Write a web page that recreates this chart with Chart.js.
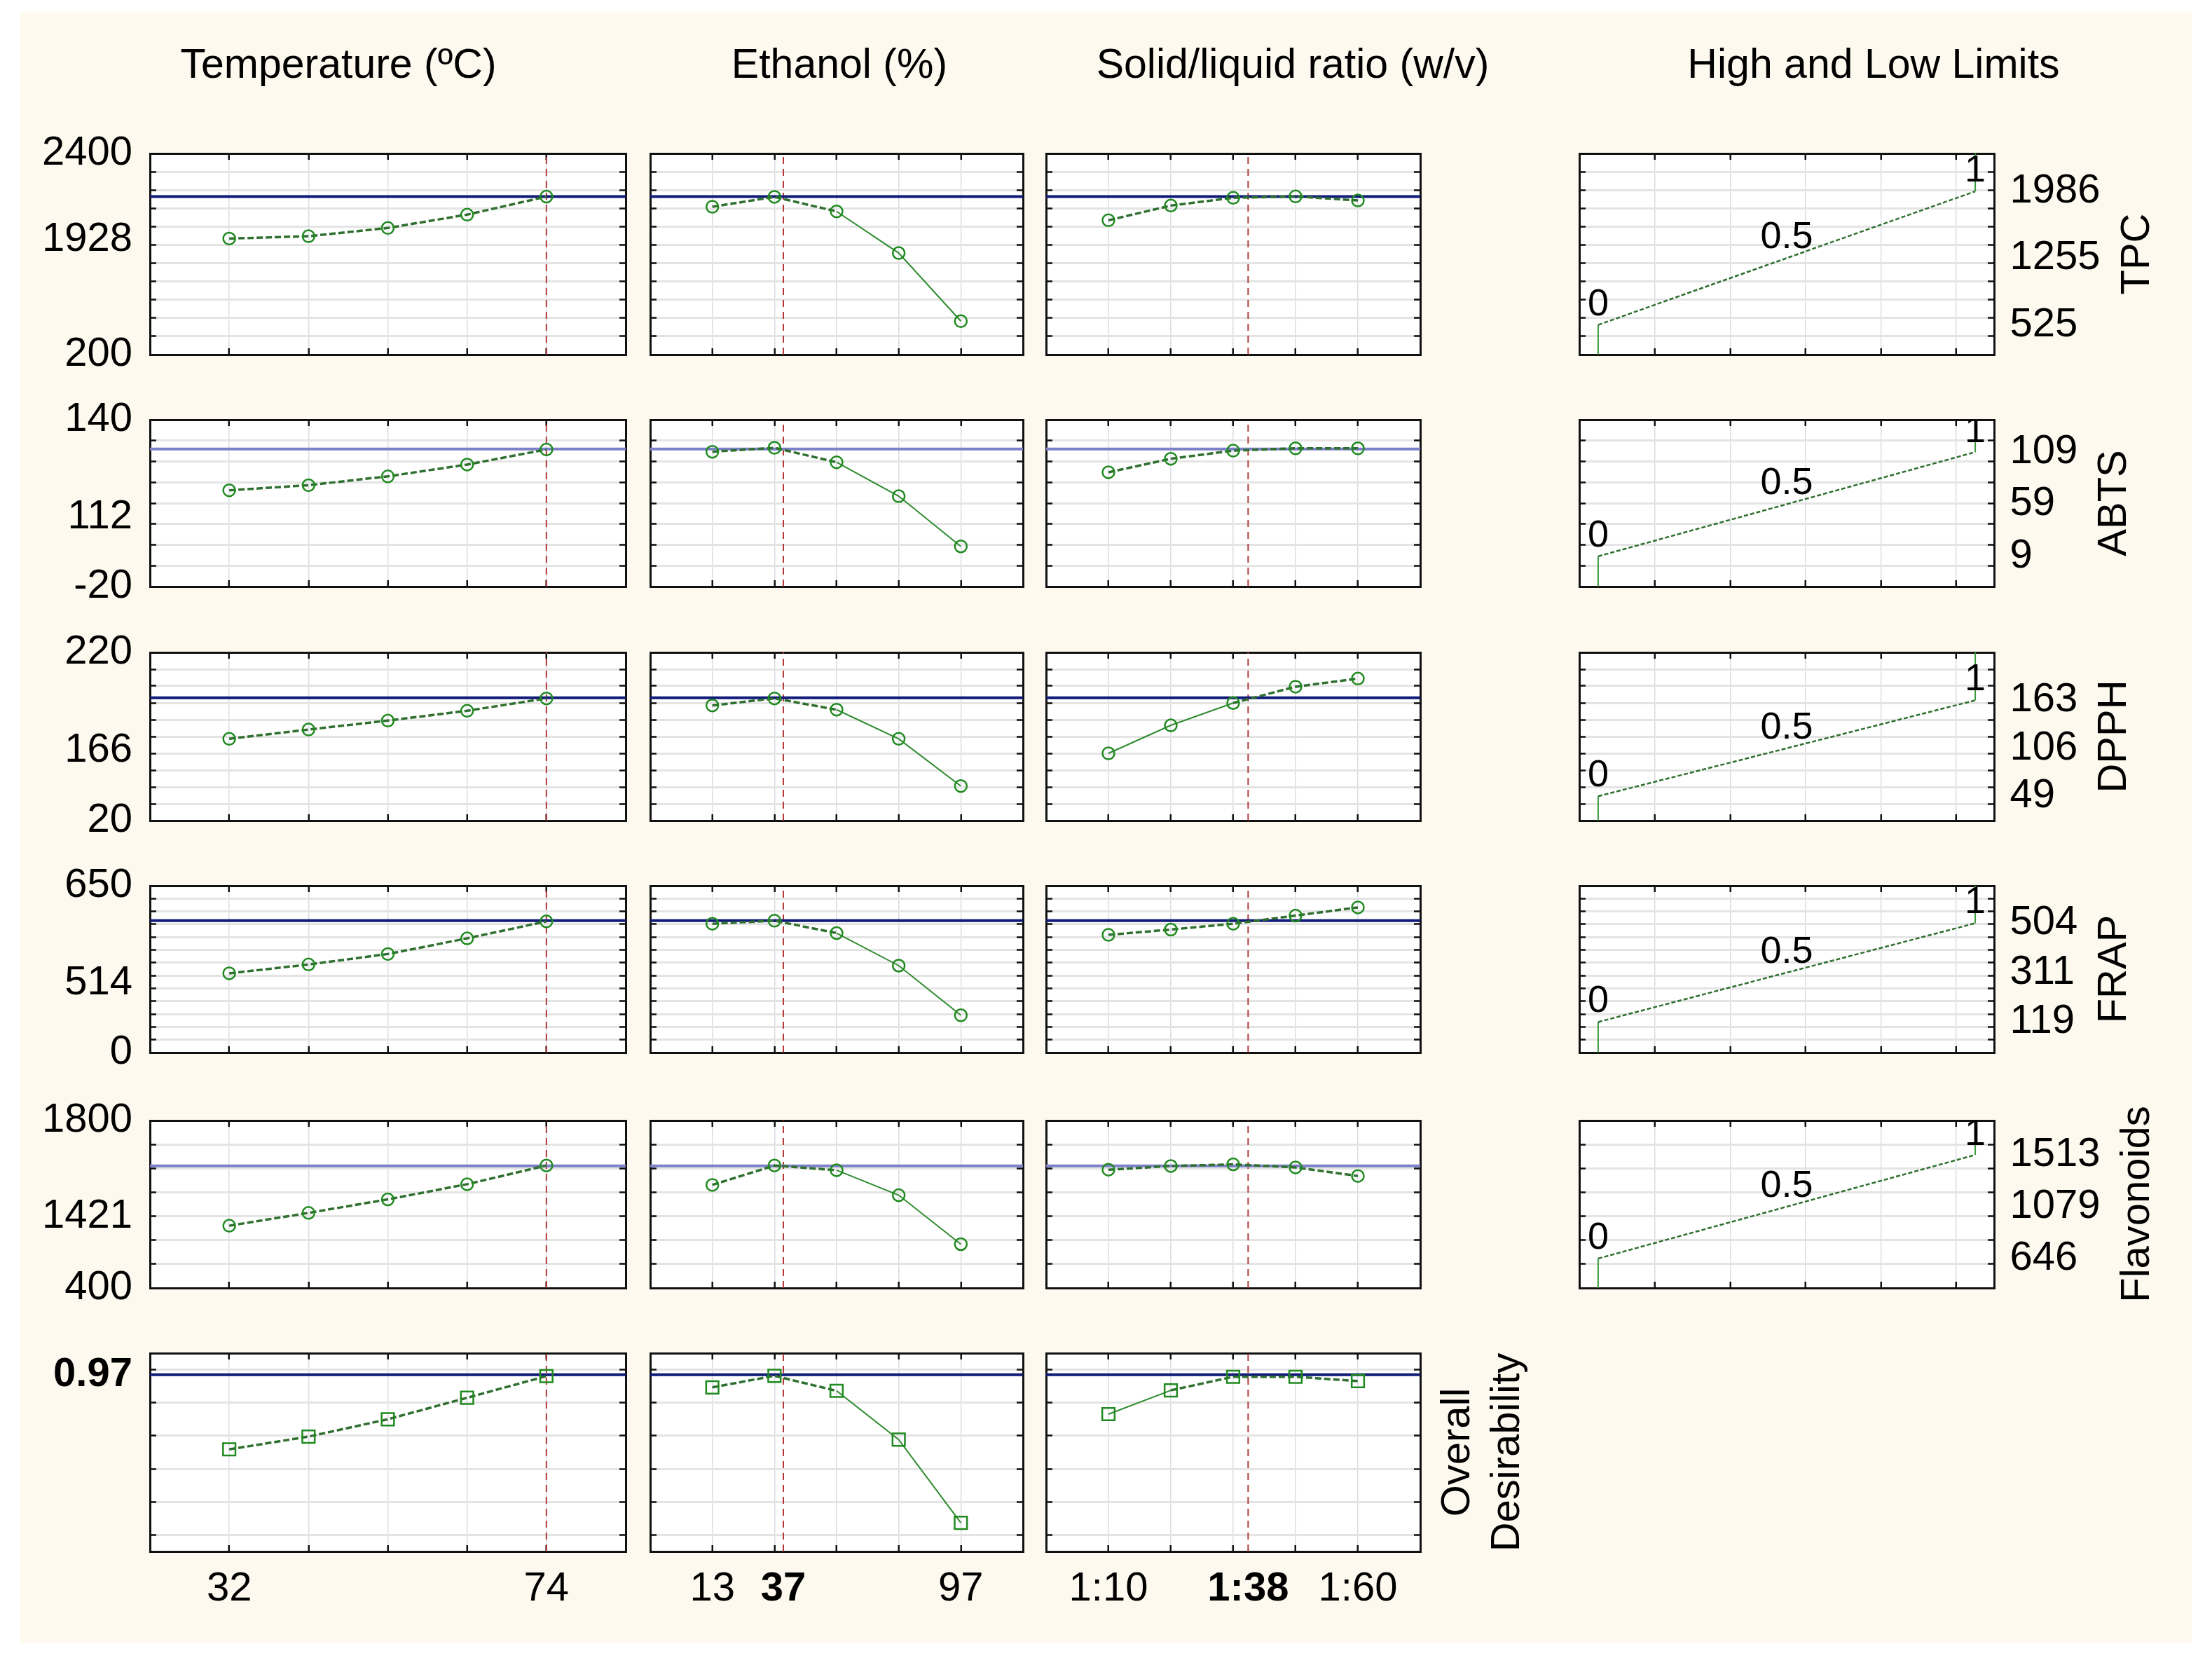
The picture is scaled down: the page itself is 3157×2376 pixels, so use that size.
<!DOCTYPE html>
<html><head><meta charset="utf-8">
<script src="https://cdn.jsdelivr.net/npm/chart.js@4.4.1/dist/chart.umd.min.js"></script>
<style>
html,body{margin:0;padding:0;background:#fff;}
#page{position:relative;width:3157px;height:2376px;overflow:hidden;background:#fff;}
#cream{position:absolute;left:29px;top:18px;width:3099px;height:2327px;background:#fdf9ee;}
.title{position:absolute;top:62px;width:900px;text-align:center;font:59px/59px 'Liberation Sans',Arial,sans-serif;color:#000;white-space:nowrap;}
canvas{position:absolute;}
</style></head><body><div id="page"><div id="cream"></div></div>
<script>
// ---------------- DATA ----------------
const factorTitles = ['Temperature (ºC)', 'Ethanol (%)', 'Solid/liquid ratio (w/v)', 'High and Low Limits'];
const tempLevels = [32, 42.5, 53, 63.5, 74];
const ethanolLevels = [13, 34, 55, 76, 97];
const ratioLevels = [10, 22.5, 35, 47.5, 60];
const optimumSettings = [74, 37, 38];
const xLabelValues = [[32, 74], [13, 37, 97], [10, 38, 60]];
const xLabelTexts = [['32', '74'], ['13', '37', '97'], ['1:10', '1:38', '1:60']];

const responseNames = ['TPC', 'ABTS', 'DPPH', 'FRAP', 'Flavonoids'];
const axisMin = [200, -20, 20, 0, 400, -0.1];
const axisMax = [2400, 140, 220, 650, 1800, 1.1];
const gridStart = [200, -20, 20, 0, 400, 0];
const gridEnd = [2400, 140, 220, 650, 1800, 1];
const gridStep = [200, 20, 20, 50, 200, 0.2];
const predictedAtOptimum = [1928, 112, 166, 514, 1421, 0.97];
const lowLimits = [525, 9, 49, 119, 646];
const midLimits = [1255, 59, 106, 311, 1079];
const highLimits = [1986, 109, 163, 504, 1513];
const desirabilityLabels = ['0', '0.5', '1'];

const tpcByTemp = [1469, 1495, 1585, 1731, 1928];
const tpcByEthanol = [1817, 1925, 1766, 1311, 566];
const tpcByRatio = [1669, 1830, 1915, 1930, 1886];
const abtsByTemp = [72.3, 77.2, 85.7, 97, 111.5];
const abtsByEthanol = [109.3, 113.1, 99.2, 66.7, 18.5];
const abtsByRatio = [89.6, 102.6, 110.4, 112.6, 112.6];
const dpphByTemp = [117.2, 128.3, 138.9, 150.6, 165.3];
const dpphByEthanol = [156.9, 165.3, 151.9, 117.2, 61.1];
const dpphByRatio = [100, 133.3, 159.8, 179.2, 188.9];
const frapByTemp = [308.8, 343.1, 384, 445, 511.1];
const frapByEthanol = [502.1, 513.8, 465.6, 338.7, 145.4];
const frapByRatio = [458.6, 479.3, 502.1, 533.7, 565.6];
const flavByTemp = [920.7, 1027.7, 1140.7, 1267.6, 1423.8];
const flavByEthanol = [1261.8, 1423.8, 1384.6, 1175.8, 766.2];
const flavByRatio = [1388.7, 1419.7, 1433.2, 1408, 1336];
const desByTemp = [0.518, 0.595, 0.70, 0.83, 0.961];
const desByEthanol = [0.893, 0.963, 0.872, 0.577, 0.073];
const desByRatio = [0.731, 0.875, 0.957, 0.957, 0.931];

// ---------------- LAYOUT / STYLE ----------------
const FONT_FAMILY = "'Liberation Sans', Arial, sans-serif";
const COLS = [[214, 893], [928, 1460], [1493, 2027], [2254, 2846]];
const ROWS = [[219, 506], [599, 837], [931, 1171], [1264, 1502], [1599, 1838], [1931, 2214]];
const TITLE_CENTERS = [483, 1198, 1845, 2674];
const MID_LABEL_FRAC = [0.57, 0.415, 0.415, 0.415, 0.425];
const BLUE = ['#101a78', '#7d82c8', '#101a78', '#101a78', '#7d82c8', '#101a78'];
const H_GRID = '#e4e4e4', V_GRID = '#dcdce6';

const levelsByCol = [tempLevels, ethanolLevels, ratioLevels];
const valuesGrid = [
  [tpcByTemp, tpcByEthanol, tpcByRatio],
  [abtsByTemp, abtsByEthanol, abtsByRatio],
  [dpphByTemp, dpphByEthanol, dpphByRatio],
  [frapByTemp, frapByEthanol, frapByRatio],
  [flavByTemp, flavByEthanol, flavByRatio],
  [desByTemp, desByEthanol, desByRatio]
];

const page = document.getElementById('page');
factorTitles.forEach((t, i) => {
  const d = document.createElement('div');
  d.className = 'title'; d.textContent = t;
  d.style.left = (TITLE_CENTERS[i] - 450) + 'px';
  page.appendChild(d);
});

// ---------------- PLUGINS ----------------
const areaBg = {
  id: 'areaBg',
  beforeDraw(chart) {
    const { ctx, chartArea: a } = chart;
    ctx.save(); ctx.fillStyle = '#fff';
    ctx.fillRect(a.left, a.top, a.right - a.left, a.bottom - a.top);
    ctx.restore();
  }
};
const descLabels = {
  id: 'descLabels',
  afterDatasetsDraw(chart, args, opts) {
    if (!opts || !opts.points) return;
    const { ctx, chartArea: a, scales } = chart;
    ctx.save();
    ctx.beginPath(); ctx.rect(a.left, a.top, a.right - a.left, a.bottom - a.top); ctx.clip();
    ctx.font = '54px ' + FONT_FAMILY; ctx.fillStyle = '#000';
    ctx.textAlign = 'center'; ctx.textBaseline = 'alphabetic';
    opts.points.forEach(p => ctx.fillText(p.text, scales.x.getPixelForValue(p.x), scales.y.getPixelForValue(p.y) - 14));
    ctx.restore();
  }
};
const sideTitle = {
  id: 'sideTitle',
  afterDraw(chart, args, opts) {
    if (!opts || !opts.lines) return;
    const { ctx, chartArea: a } = chart;
    ctx.save();
    ctx.font = '58px ' + FONT_FAMILY;
    let x0 = a.right + opts.gap;
    if (opts.afterLabels) {
      const s = chart.scales.y2;
      let w = 0;
      s.ticks.forEach(t => { if (t.lab) w = Math.max(w, ctx.measureText(t.lab).width); });
      x0 = a.right - 9 + s.options.ticks.padding + w + opts.gap;
    }
    ctx.fillStyle = '#000'; ctx.textAlign = 'center'; ctx.textBaseline = 'top';
    const cy = (a.top + a.bottom) / 2;
    opts.lines.forEach((line, i) => {
      ctx.save(); ctx.translate(x0 + i * 71, cy); ctx.rotate(-Math.PI / 2);
      ctx.fillText(line, 0, 0); ctx.restore();
    });
    ctx.restore();
  }
};

// ---------------- HELPERS ----------------
function range(start, end, step) {
  const t = []; const n = Math.round((end - start) / step);
  for (let i = 0; i <= n; i++) t.push(+(start + i * step).toFixed(6));
  return t;
}
function makeAxis(o) {
  return {
    type: 'linear', axis: o.axis, position: o.position, min: o.min, max: o.max,
    afterBuildTicks: s => {
      const t = o.ticks.map(v => ({ value: v }));
      (o.extra || []).forEach(e => t.push({ value: e.value, lab: e.text, bold: !!e.bold, extra: true }));
      t.sort((p, q) => p.value - q.value);
      s.ticks = t;
    },
    afterFit: s => {
      if (o.axis === 'x') s.height = o.size; else s.width = o.size;
      s.paddingTop = 0; s.paddingBottom = 0; s.paddingLeft = 0; s.paddingRight = 0;
    },
    grid: {
      display: true, drawOnChartArea: !!o.onArea,
      color: c => (c.tick && c.tick.extra) ? 'rgba(0,0,0,0)' : o.gridColor,
      lineWidth: o.gridWidth, drawTicks: true, tickLength: -9, tickWidth: 2.5,
      tickColor: c => (c.tick && c.tick.extra) ? 'rgba(0,0,0,0)' : '#111'
    },
    border: { display: true, color: '#111', width: 3 },
    ticks: {
      display: !!o.showLabels, autoSkip: false, maxRotation: 0, minRotation: 0,
      padding: o.padding || 0, color: '#000',
      font: c => ({ family: FONT_FAMILY, size: 58, weight: (c.tick && c.tick.bold) ? 'bold' : 'normal' }),
      callback: (v, i, t) => (t[i] && t[i].lab) ? t[i].lab : ''
    }
  };
}
function shallow(c) { return Math.abs(c.p1.y - c.p0.y) < 0.35 * Math.abs(c.p1.x - c.p0.x); }

function addChart(col, row, M, datasets, scales, plugins) {
  const [x0, x1] = COLS[col], [y0, y1] = ROWS[row];
  const W = (x1 - x0) + M.l + M.r, H = (y1 - y0) + M.t + M.b;
  const c = document.createElement('canvas');
  c.width = W; c.height = H;
  c.style.left = (x0 - M.l) + 'px'; c.style.top = (y0 - M.t) + 'px';
  c.style.width = W + 'px'; c.style.height = H + 'px';
  page.appendChild(c);
  return new Chart(c.getContext('2d'), {
    type: 'line',
    data: { datasets },
    options: {
      responsive: false, devicePixelRatio: 1, animation: false, events: [],
      layout: { padding: 0, autoPadding: false },
      plugins: Object.assign({ legend: { display: false }, tooltip: { enabled: false } }, plugins || {}),
      scales
    },
    plugins: [areaBg, descLabels, sideTitle]
  });
}

// ---------------- PROFILE PANELS ----------------
for (let row = 0; row < 6; row++) {
  for (let col = 0; col < 3; col++) {
    const levels = levelsByCol[col];
    const step = levels[1] - levels[0];
    const xmin = levels[0] - step, xmax = levels[levels.length - 1] + step;
    const ymin = axisMin[row], ymax = axisMax[row];
    const values = valuesGrid[row][col];
    const M = { l: col === 0 ? 200 : 20, r: (col === 2 && row === 5) ? 190 : 20, t: 45, b: row === 5 ? 120 : 45 };
    const yTicks = range(gridStart[row], gridEnd[row], gridStep[row]);
    const xTicks = levels.slice();

    let yExtra = [];
    if (col === 0) {
      if (row < 5) {
        yExtra = [
          { value: ymax, text: String(ymax) },
          { value: ymin + MID_LABEL_FRAC[row] * (ymax - ymin), text: String(predictedAtOptimum[row]) },
          { value: ymin, text: String(ymin) }
        ];
      } else {
        yExtra = [{ value: predictedAtOptimum[row], text: String(predictedAtOptimum[row]), bold: true }];
      }
    }
    let xExtra = [];
    if (row === 5) {
      xExtra = xLabelValues[col].map((v, i) => ({ value: v, text: xLabelTexts[col][i], bold: v === optimumSettings[col] && col > 0 }));
    }

    const datasets = [
      {
        data: levels.map((x, i) => ({ x, y: values[i] })),
        borderColor: '#2e8b2e', borderWidth: 2, tension: 0, fill: false,
        pointStyle: row === 5 ? 'rect' : 'circle', pointRadius: row === 5 ? 12.5 : 8.5,
        pointBorderWidth: 2.5, pointBorderColor: '#1f8a1f', pointBackgroundColor: 'rgba(0,0,0,0)',
        segment: {
          borderDash: c => shallow(c) ? [9, 4] : undefined,
          borderWidth: c => shallow(c) ? 3.5 : 2,
          borderColor: c => shallow(c) ? '#2f6f2f' : '#2e8b2e'
        }
      },
      { data: [{ x: xmin, y: predictedAtOptimum[row] }, { x: xmax, y: predictedAtOptimum[row] }], borderColor: BLUE[row], borderWidth: 4, pointRadius: 0 },
      { data: [{ x: optimumSettings[col], y: ymin }, { x: optimumSettings[col], y: ymax }], borderColor: '#b33a3a', borderWidth: 2, borderDash: [10, 7], pointRadius: 0 }
    ];
    const scales = {
      x: makeAxis({ axis: 'x', position: 'bottom', min: xmin, max: xmax, ticks: xTicks, extra: xExtra, showLabels: row === 5, size: M.b, onArea: true, gridColor: V_GRID, gridWidth: 1.5, padding: 28 }),
      x2: makeAxis({ axis: 'x', position: 'top', min: xmin, max: xmax, ticks: xTicks, size: M.t, onArea: false, gridColor: V_GRID, gridWidth: 1.5 }),
      y: makeAxis({ axis: 'y', position: 'left', min: ymin, max: ymax, ticks: yTicks, extra: yExtra, showLabels: col === 0, size: M.l, onArea: true, gridColor: H_GRID, gridWidth: 3, padding: 34 }),
      y2: makeAxis({ axis: 'y', position: 'right', min: ymin, max: ymax, ticks: yTicks, size: M.r, onArea: false, gridColor: H_GRID, gridWidth: 3 })
    };
    const plugins = {};
    if (row === 5 && col === 2) plugins.sideTitle = { lines: ['Overall', 'Desirability'], gap: 25 };
    addChart(col, row, M, datasets, scales, plugins);
  }
}

// ---------------- HIGH / LOW LIMIT PANELS ----------------
for (let row = 0; row < 5; row++) {
  const ymin = axisMin[row], ymax = axisMax[row];
  const M = { l: 20, r: 300, t: 45, b: 45 };
  const yTicks = range(gridStart[row], gridEnd[row], gridStep[row]);
  const xTicks = range(0.15, 0.95, 0.2);
  const datasets = [{
    data: [{ x: 0, y: ymin }, { x: 0, y: lowLimits[row] }, { x: 1, y: highLimits[row] }, { x: 1, y: ymax }],
    borderColor: '#2e8b2e', borderWidth: 2, pointRadius: 0, tension: 0,
    segment: {
      borderDash: c => (c.p0.x !== c.p1.x) ? [6, 3] : undefined,
      borderWidth: c => (c.p0.x !== c.p1.x) ? 2.5 : 2,
      borderColor: c => (c.p0.x !== c.p1.x) ? '#2f6f2f' : '#3a9a3a'
    }
  }];
  const y2Extra = [
    { value: lowLimits[row], text: String(lowLimits[row]) },
    { value: (lowLimits[row] + highLimits[row]) / 2, text: String(midLimits[row]) },
    { value: highLimits[row], text: String(highLimits[row]) }
  ];
  const scales = {
    x: makeAxis({ axis: 'x', position: 'bottom', min: -0.05, max: 1.05, ticks: xTicks, size: M.b, onArea: true, gridColor: V_GRID, gridWidth: 1.5 }),
    x2: makeAxis({ axis: 'x', position: 'top', min: -0.05, max: 1.05, ticks: xTicks, size: M.t, onArea: false, gridColor: V_GRID, gridWidth: 1.5 }),
    y: makeAxis({ axis: 'y', position: 'left', min: ymin, max: ymax, ticks: yTicks, size: M.l, onArea: true, gridColor: H_GRID, gridWidth: 3 }),
    y2: makeAxis({ axis: 'y', position: 'right', min: ymin, max: ymax, ticks: yTicks, extra: y2Extra, showLabels: true, size: M.r, onArea: false, gridColor: H_GRID, gridWidth: 3, padding: 31.5 })
  };
  const pts = [
    { x: 0, y: lowLimits[row], text: desirabilityLabels[0] },
    { x: 0.5, y: (lowLimits[row] + highLimits[row]) / 2, text: desirabilityLabels[1] },
    { x: 1, y: highLimits[row], text: desirabilityLabels[2] }
  ];
  addChart(3, row, M, datasets, scales, {
    descLabels: { points: pts },
    sideTitle: { lines: [responseNames[row]], gap: 24, afterLabels: true }
  });
}
</script></body></html>
